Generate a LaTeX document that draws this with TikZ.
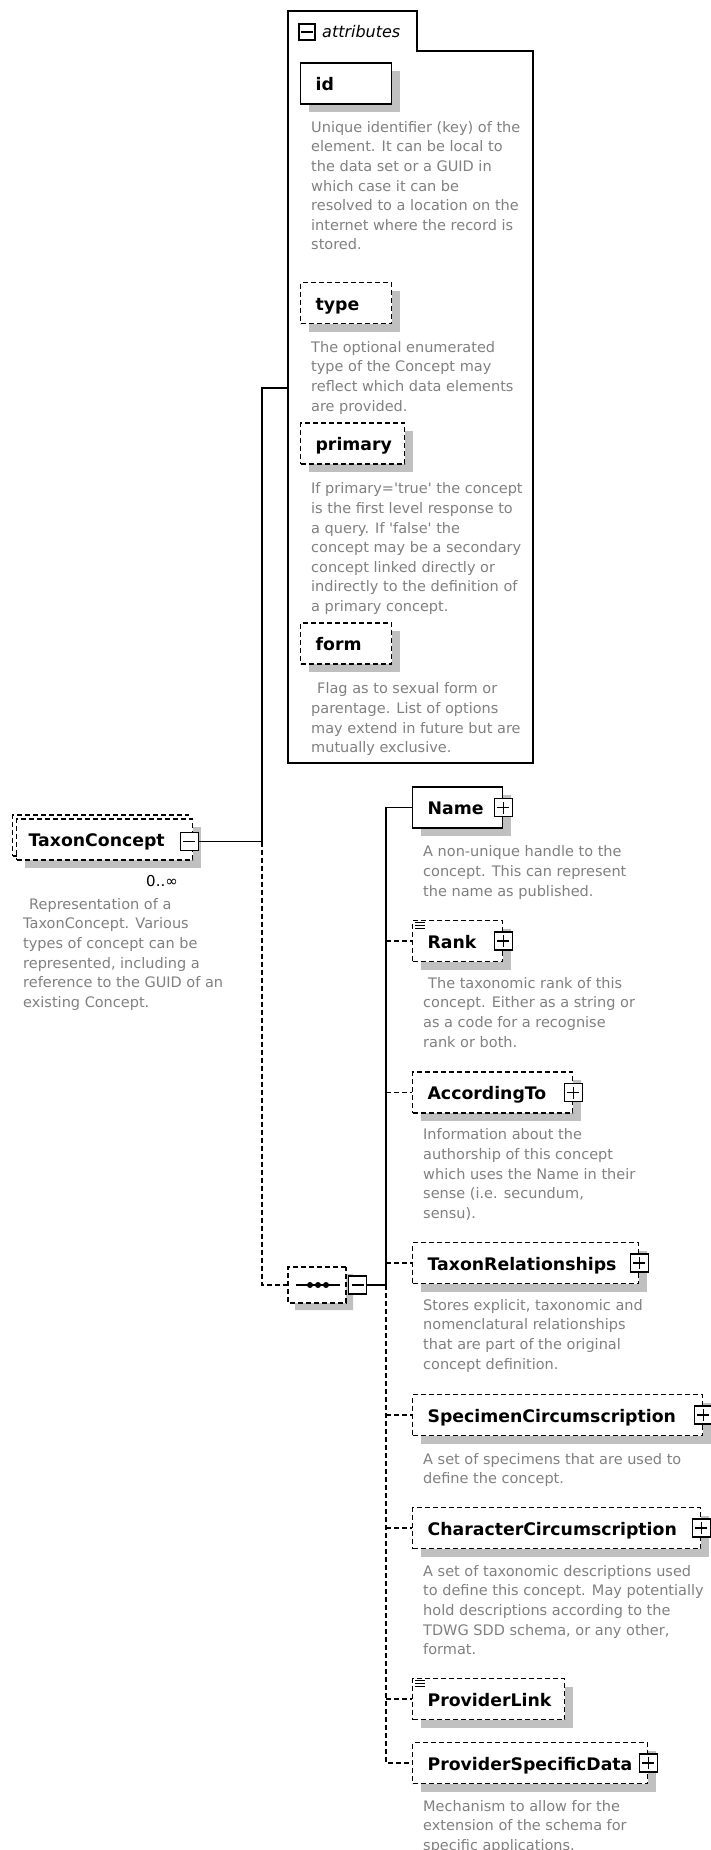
\documentclass[tikz,border=0pt]{standalone}
\usepackage{fontspec}
\setmainfont{DejaVu Sans}
\usetikzlibrary{positioning,shadows,shapes.misc}
\definecolor{descgray}{RGB}{128,128,128}
\definecolor{shadegray}{RGB}{192,192,192}
\tikzset{
  link/.style={line width=1.2pt},
  opt/.style={dash pattern=on 5pt off 3pt},
  elem/.style={link, draw, fill=white, anchor=west, inner xsep=15pt, inner ysep=0pt,
    minimum height=41pt, text height=16pt, text depth=2pt, align=left,
    font=\fontsize{17.3}{20}\selectfont\bfseries,
    drop shadow={shadow xshift=8pt, shadow yshift=-8pt, fill=shadegray, opacity=1}},
  desc/.style={anchor=north west, inner sep=0pt, align=left, text=descgray,
    font=\fontsize{14.5}{19.6}\selectfont},
  expbox/.style={link, draw, fill=white, minimum size=18pt, inner sep=0pt},
  plus/.style={expbox, path picture={\draw[link]
    ([xshift=-6pt]path picture bounding box.center) -- ([xshift=6pt]path picture bounding box.center)
    ([yshift=-6pt]path picture bounding box.center) -- ([yshift=6pt]path picture bounding box.center);}},
  minus/.style={expbox, path picture={\draw[link]
    ([xshift=-6pt]path picture bounding box.center) -- ([xshift=6pt]path picture bounding box.center);}},
}
\begin{document}
\begin{tikzpicture}[x=1pt,y=-1pt]
    \useasboundingbox (0,0) rectangle (710,1850);
    \draw[link] (288,763) -- (288,11) -- (417,11) -- (417,51) -- (533,51) -- (533,763) -- cycle;
    \node[minus, minimum size=16pt] (attrx) at (307,32) {};
    \node[anchor=west, inner sep=0pt, font=\fontsize{16}{19}\selectfont\itshape] (attrlbl) at (322,32) {attributes};
    \coordinate (attrin) at (288,388);
    \node[elem, text width=61pt] (id) at (300,83.5) {id};
    \node[elem, opt, text width=61pt] (type) at (300,303) {type};
    \node[elem, opt, text width=74pt] (primary) at (300,443.5) {primary};
    \node[elem, opt, text width=61pt] (form) at (300,643.5) {form};
    \node[desc, below right=16.5pt and 11pt of id.south west] (iddesc) {Unique identifier (key) of the\\element. It can be local to\\the data set or a GUID in\\which case it can be\\resolved to a location on the\\internet where the record is\\stored.};
    \node[desc, below right=17pt and 11pt of type.south west] (typedesc) {The optional enumerated\\type of the Concept may\\reflect which data elements\\are provided.};
    \node[desc, below right=18pt and 11pt of primary.south west] (primarydesc) {If primary=\textquotesingle true\textquotesingle{} the concept\\is the first level response to\\a query. If \textquotesingle false\textquotesingle{} the\\concept may be a secondary\\concept linked directly or\\indirectly to the definition of\\a primary concept.};
    \node[desc, below right=18pt and 11pt of form.south west] (formdesc) {\hspace*{6pt}Flag as to sexual form or\\parentage. List of options\\may extend in future but are\\mutually exclusive.};

    \node[elem, opt, inner xsep=12pt, text width=152pt,
      copy shadow={shadow xshift=-4pt, shadow yshift=4pt, draw=black, fill=white, link, opt}] (taxon) at (16,839.5) {TaxonConcept};
    \node[minus] (taxonx) at ([xshift=-4pt,yshift=-2pt]taxon.east) {};
    \node[inner sep=0pt, font=\fontsize{15}{18}\selectfont] (occurs) at (162,881) {0..∞};
    \node[desc] (taxondesc) at (23,898) {\hspace*{6pt}Representation of a\\TaxonConcept. Various\\types of concept can be\\represented, including a\\reference to the GUID of an\\existing Concept.};

    \coordinate (trunk) at (262,0);
    \node[chamfered rectangle, chamfered rectangle xsep=8pt, chamfered rectangle ysep=8pt, draw, fill=white, link, opt,
      minimum width=58pt, minimum height=36pt, inner sep=0pt,
      drop shadow={shadow xshift=7pt, shadow yshift=-7pt, fill=shadegray, opacity=1}] (seq) at (317,1285) {};
    \draw[link] ([xshift=-21pt]seq.center) -- ([xshift=23pt]seq.center);
    \foreach \dx in {-7,1,9}
    \fill ([xshift=\dx pt]seq.center) circle (3pt);
    \node[minus] (seqx) at ([xshift=11pt]seq.east) {};
    \draw[link] (taxonx.east) -- (taxonx.east -| trunk) |- (attrin);
    \draw[link, opt] (taxonx.east -| trunk) |- (seq.west);

    \node[elem, text width=60pt] (name) at (412,807.5) {Name};
    \node[elem, opt, text width=60pt] (rank) at (412,941) {Rank};
    \node[elem, opt, text width=130pt] (accto) at (412,1092.5) {AccordingTo};
    \node[elem, opt, text width=196pt] (taxrel) at (412,1263) {TaxonRelationships};
    \node[elem, opt, text width=260pt] (spec) at (412,1415) {SpecimenCircumscription};
    \node[elem, opt, text width=258pt] (charc) at (412,1528) {CharacterCircumscription};
    \node[elem, opt, text width=122pt] (plink) at (412,1699) {ProviderLink};
    \node[elem, opt, text width=205pt] (psd) at (412,1763) {ProviderSpecificData};
    \foreach \e in {name,rank,accto,taxrel,spec,charc,psd}
    \node[plus] (\e-x) at (\e.east) {};
    \foreach \e in {rank,plink}
    \draw[line width=1pt] \foreach \k in {2.5,5.5,8.5} {([xshift=3pt,yshift=-\k pt]\e.north west) -- ++(10pt,0)};

    \coordinate (spine) at (386,1285);
    \draw[link] (seqx.east) -- (spine) |- (name.west);
    \foreach \e in {rank,accto,taxrel,spec,charc,plink}
    \draw[link, opt] (\e.west -| spine) -- (\e.west);
    \draw[link, opt] (spine) |- (psd.west);

    \node[desc, below right=17pt and 11pt of name.south west] (namedesc) {A non-unique handle to the\\concept. This can represent\\the name as published.};
    \node[desc, below right=15pt and 11pt of rank.south west] (rankdesc) {\hspace*{5pt}The taxonomic rank of this\\concept. Either as a string or\\as a code for a recognise\\rank or both.};
    \node[desc, below right=15pt and 11pt of accto.south west] (acctodesc) {Information about the\\authorship of this concept\\which uses the Name in their\\sense (i.e. secundum,\\sensu).};
    \node[desc, below right=15pt and 11pt of taxrel.south west] (taxreldesc) {Stores explicit, taxonomic and\\nomenclatural relationships\\that are part of the original\\concept definition.};
    \node[desc, below right=17pt and 11pt of spec.south west] (specdesc) {A set of specimens that are used to\\define the concept.};
    \node[desc, below right=16pt and 11pt of charc.south west] (charcdesc) {A set of taxonomic descriptions used\\to define this concept. May potentially\\hold descriptions according to the\\TDWG SDD schema, or any other,\\format.};
    \node[desc, below right=16pt and 11pt of psd.south west] (psddesc) {Mechanism to allow for the\\extension of the schema for\\specific applications.};
\end{tikzpicture}
\end{document}
